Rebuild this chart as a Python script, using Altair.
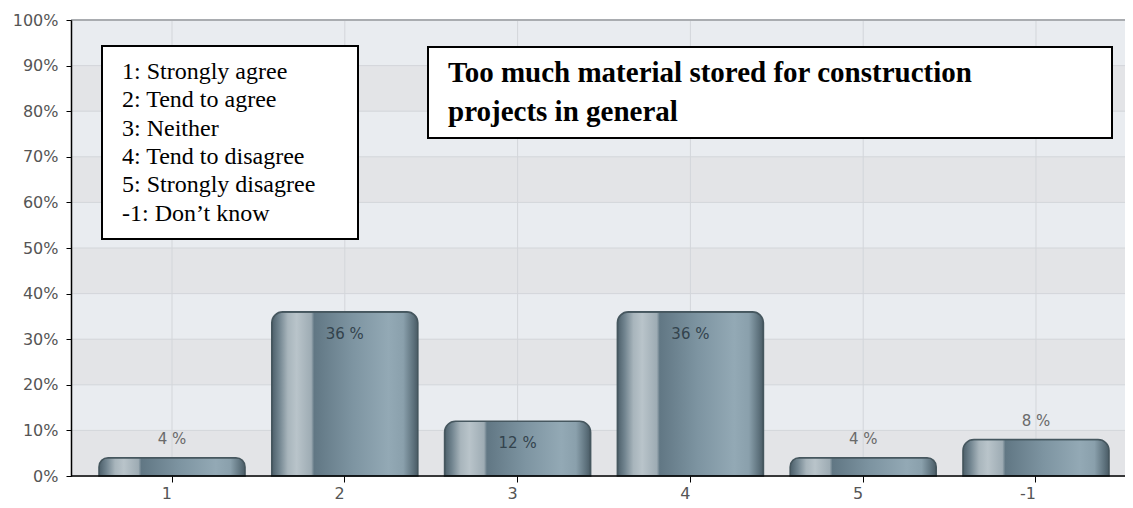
import altair as alt
import pandas as pd

# ---- data ----
categories = ["1", "2", "3", "4", "5", "-1"]
percentages = [4, 36, 12, 36, 4, 8]
y_ticks = [0, 10, 20, 30, 40, 50, 60, 70, 80, 90, 100]
shade_lo = [0, 20, 40, 60, 80]
shade_hi = [10, 30, 50, 70, 90]
legend_lines = [
    "1: Strongly agree",
    "2: Tend to agree",
    "3: Neither",
    "4: Tend to disagree",
    "5: Strongly disagree",
    "-1: Don\u2019t know",
]
title_lines = ["Too much material stored for construction", "projects in general"]

PLOT_W = 1054
PLOT_H = 456

df = pd.DataFrame({"answer": categories, "pct": percentages})
df["label"] = df["pct"].astype(str) + " %"
bands_df = pd.DataFrame({"lo": shade_lo, "hi": shade_hi})
ticks_df = pd.DataFrame({"v": y_ticks})
one = pd.DataFrame({"k": [0]})

x_scale = alt.Scale(domain=categories, range=[28, 1038], paddingInner=0.155, paddingOuter=0)
y_scale = alt.Scale(domain=[0, 100], nice=False)

x_enc = alt.X(
    "answer:N", scale=x_scale, sort=categories, title=None,
    axis=alt.Axis(domain=False, grid=False, labelAngle=0, tickColor="#000", tickSize=6,
                  labelFont="DejaVu Sans", labelFontSize=16, labelColor="#555",
                  labelPadding=11, zindex=1),
)
y_enc = alt.Y(
    "pct:Q", scale=y_scale, title=None,
    axis=alt.Axis(values=y_ticks, labelExpr="datum.value + '%'", grid=False,
                  domainColor="#000", domainWidth=1.5, tickColor="#000", tickSize=5,
                  labelFont="DejaVu Sans", labelFontSize=16, labelColor="#555",
                  labelPadding=8, zindex=1),
)

base_fill = alt.Chart(one).mark_rect(color="#e9ecf0").encode(
    y=alt.datum(0, scale=y_scale), y2=alt.datum(100)
)
bands = alt.Chart(bands_df).mark_rect(color="#e3e4e7").encode(
    y=alt.Y("lo:Q", scale=y_scale), y2="hi:Q"
)
hgrid = alt.Chart(ticks_df).mark_rule(color="#d3d6da", strokeWidth=1).encode(
    y=alt.Y("v:Q", scale=y_scale)
)
vgrid = alt.Chart(df).mark_rule(color="#d3d6da", strokeWidth=1).encode(
    x=alt.X("answer:N", scale=x_scale, sort=categories)
)
top_line = alt.Chart(one).mark_rule(color="#a9acb0", strokeWidth=2).encode(
    y=alt.datum(100, scale=y_scale)
)

bar_fill = alt.Gradient(
    gradient="linear", x1=0, x2=1, y1=0, y2=0,
    stops=[
        alt.GradientStop(offset=0.0, color="#4c5f6a"),
        alt.GradientStop(offset=0.05, color="#71848f"),
        alt.GradientStop(offset=0.11, color="#a8b5bc"),
        alt.GradientStop(offset=0.17, color="#b9c4ca"),
        alt.GradientStop(offset=0.27, color="#9eacb4"),
        alt.GradientStop(offset=0.29, color="#617784"),
        alt.GradientStop(offset=0.55, color="#7d94a1"),
        alt.GradientStop(offset=0.8, color="#93a9b5"),
        alt.GradientStop(offset=0.9, color="#8aa0ac"),
        alt.GradientStop(offset=0.97, color="#5d717c"),
        alt.GradientStop(offset=1.0, color="#4a5b65"),
    ],
)

bars = alt.Chart(df).mark_bar(
    color=bar_fill, cornerRadiusTopLeft=11, cornerRadiusTopRight=11,
    stroke="#46575f", strokeWidth=1.6,
).encode(x=x_enc, y=y_enc)

labels_in = alt.Chart(df).transform_filter("datum.pct > 10").mark_text(
    font="DejaVu Sans", fontSize=15, color="#33434d", baseline="middle", dy=22
).encode(x=alt.X("answer:N", scale=x_scale, sort=categories),
         y=alt.Y("pct:Q", scale=y_scale), text="label:N")

labels_out = alt.Chart(df).transform_filter("datum.pct <= 10").mark_text(
    font="DejaVu Sans", fontSize=15, color="#6a6a6a", baseline="middle", dy=-19
).encode(x=alt.X("answer:N", scale=x_scale, sort=categories),
         y=alt.Y("pct:Q", scale=y_scale), text="label:N")

x_line = alt.Chart(one).mark_rule(color="#000", strokeWidth=1.5).encode(
    y=alt.datum(0, scale=y_scale)
)

legend_box = alt.Chart(one).mark_rect(fill="white", stroke="#000", strokeWidth=2).encode(
    x=alt.value(31), x2=alt.value(287), y=alt.value(26), y2=alt.value(219)
)
legend_text = alt.Chart(one).mark_text(
    text=legend_lines, align="left", baseline="middle", font="Liberation Serif",
    fontSize=24, lineHeight=28.3, color="#000",
).encode(x=alt.value(51), y=alt.value(52))

title_box = alt.Chart(one).mark_rect(fill="white", stroke="#000", strokeWidth=2).encode(
    x=alt.value(357), x2=alt.value(1041), y=alt.value(27), y2=alt.value(118)
)
title_text = alt.Chart(one).mark_text(
    text=title_lines, align="left", baseline="middle", font="Liberation Serif",
    fontSize=29, fontWeight="bold", lineHeight=39, color="#000",
).encode(x=alt.value(377), y=alt.value(53))

chart = alt.layer(
    base_fill, bands, hgrid, vgrid, top_line, bars, labels_in, labels_out, x_line,
    legend_box, legend_text, title_box, title_text,
).properties(
    width=PLOT_W, height=PLOT_H,
    autosize=alt.AutoSizeParams(type="none"),
    padding={"left": 63, "top": 12, "right": 0, "bottom": 32},
).configure_view(
    stroke=None
).configure(background="white")

chart.save("out.html", embed_options={"renderer": "svg", "actions": False})
